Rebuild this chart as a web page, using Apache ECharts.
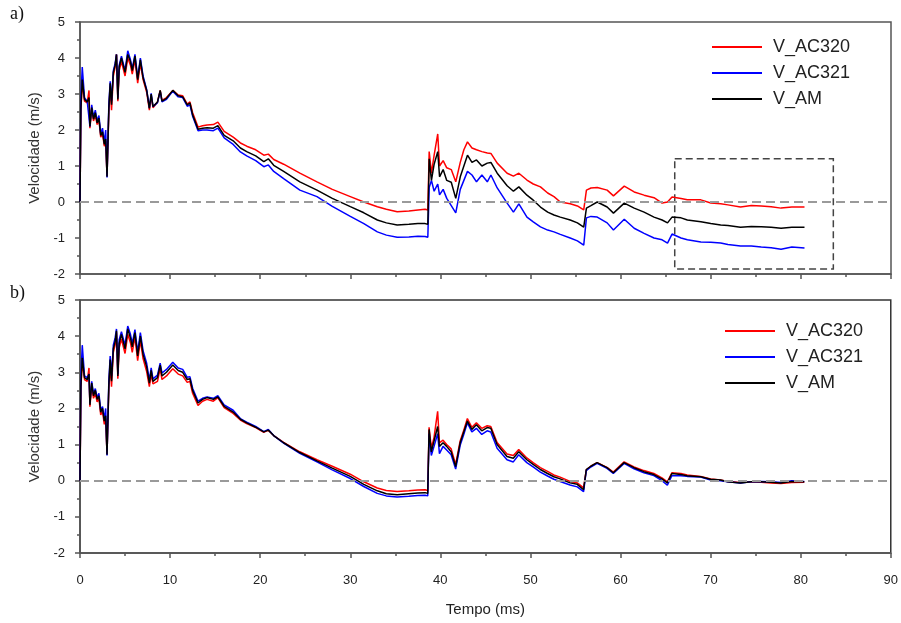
<!DOCTYPE html>
<html>
<head>
<meta charset="utf-8">
<script src="https://cdn.jsdelivr.net/npm/echarts@6/dist/echarts.min.js"></script>
<style>html,body{margin:0;padding:0;background:#fff;}#c{width:901px;height:623px;}</style>
</head>
<body>
<div id="c"></div>
<script>
// Time (ms)
var T = [0,0.1,0.25,0.5,0.8,1.0,1.1,1.3,1.5,1.7,
1.9,2.1,2.3,2.5,2.7,2.85,3.0,3.2,3.35,3.5,
3.7,3.9,4.05,4.2,4.35,4.6,5.0,5.3,5.6,5.8,
6.1,6.4,6.7,7.0,7.4,7.7,7.9,8.1,8.6,8.9,
9.1,9.6,10.3,10.9,11.4,11.9,12.2,12.5,13.1,13.6,
14.1,14.8,15.3,16.0,17.0,17.8,18.5,19.5,20.4,20.9,
21.5,22.6,24.4,26.3,28.0,30.0,31.5,33.0,34.0,35.2,
36.5,37.5,38.3,38.6,38.75,39.0,39.3,39.7,39.9,40.3,
40.7,41.2,41.7,42.2,42.6,43.0,43.5,44.0,44.6,45.2,
45.6,46.3,47.4,48.1,48.7,49.6,50.3,51.1,51.9,52.6,
53.3,54.4,55.2,55.9,56.2,56.7,57.4,58.5,59.2,60.4,
61.5,62.6,63.7,64.6,65.2,65.7,66.7,67.4,68.9,70.0,
71.1,71.9,73.3,74.5,75.6,76.7,77.8,79.0,80.4];

// Panel a)
var a_AC320 = [0,2.55,3.3,2.8,2.75,3.1,2.05,2.58,2.25,2.42,
2.15,2.28,1.8,1.9,1.55,1.7,0.72,2.5,3.2,2.55,
3.5,3.75,4.1,2.8,3.65,3.9,3.5,4.0,3.8,3.55,
3.95,3.3,3.85,3.4,3.05,2.55,2.95,2.62,2.78,3.1,
2.82,2.9,3.1,2.97,2.95,2.72,2.78,2.48,2.08,2.12,
2.14,2.15,2.22,1.96,1.8,1.64,1.55,1.45,1.3,1.33,
1.18,1.05,0.8,0.56,0.35,0.15,0.0,-0.13,-0.2,-0.27,
-0.25,-0.22,-0.2,-0.22,1.4,0.8,1.3,1.89,1.0,1.15,
0.95,0.9,0.56,1.1,1.45,1.67,1.5,1.45,1.4,1.36,
1.35,1.08,0.8,0.72,0.8,0.61,0.5,0.42,0.25,0.15,
0.0,-0.05,-0.11,-0.22,0.33,0.39,0.4,0.33,0.17,0.44,
0.28,0.19,0.12,-0.03,0.0,0.14,0.1,0.06,0.06,-0.03,
-0.05,-0.08,-0.14,-0.1,-0.11,-0.13,-0.17,-0.14,-0.14];
var a_AC321 = [0,2.9,3.75,2.9,2.8,2.85,2.1,2.7,2.35,2.55,
2.25,2.4,1.9,2.05,1.65,2.0,0.68,2.7,3.35,2.8,
3.65,3.85,4.1,2.9,3.8,4.05,3.65,4.2,3.95,3.7,
4.1,3.45,4.0,3.5,3.12,2.62,3.02,2.65,2.76,3.08,
2.78,2.85,3.08,2.92,2.9,2.66,2.7,2.38,1.98,2.0,
2.0,1.98,2.05,1.78,1.6,1.39,1.28,1.15,0.98,1.03,
0.85,0.65,0.33,0.15,-0.12,-0.4,-0.6,-0.83,-0.92,-0.98,
-0.97,-0.95,-0.96,-0.98,0.4,0.6,0.3,0.5,0.2,0.35,
0.1,-0.1,-0.3,0.35,0.6,0.85,0.75,0.56,0.75,0.56,
0.75,0.39,-0.03,-0.28,-0.05,-0.42,-0.55,-0.69,-0.78,-0.83,
-0.9,-1.0,-1.08,-1.2,-0.44,-0.4,-0.42,-0.58,-0.78,-0.48,
-0.73,-0.87,-1.0,-1.05,-1.14,-0.89,-1.0,-1.05,-1.11,-1.12,
-1.14,-1.18,-1.22,-1.22,-1.25,-1.27,-1.31,-1.25,-1.28];
var a_AM = [0,2.6,3.4,2.85,2.78,2.9,2.1,2.62,2.3,2.48,
2.2,2.33,1.85,1.95,1.6,1.75,0.7,2.6,3.3,2.7,
3.6,3.8,4.1,2.85,3.75,4.0,3.6,4.1,3.9,3.65,
4.05,3.4,3.95,3.45,3.1,2.6,3.0,2.65,2.78,3.1,
2.8,2.88,3.1,2.95,2.92,2.7,2.75,2.42,2.02,2.05,
2.06,2.05,2.12,1.85,1.7,1.5,1.4,1.28,1.12,1.2,
1.02,0.85,0.56,0.33,0.1,-0.13,-0.3,-0.5,-0.58,-0.64,
-0.62,-0.6,-0.6,-0.62,1.2,0.6,1.05,1.4,0.7,0.9,
0.6,0.55,0.1,0.7,1.0,1.3,1.1,1.17,1.0,1.08,
1.1,0.8,0.45,0.3,0.42,0.19,0.05,-0.14,-0.28,-0.36,
-0.42,-0.5,-0.58,-0.7,-0.17,-0.1,0.0,-0.14,-0.31,-0.03,
-0.17,-0.28,-0.42,-0.5,-0.58,-0.42,-0.44,-0.5,-0.55,-0.6,
-0.64,-0.65,-0.7,-0.68,-0.69,-0.7,-0.73,-0.7,-0.7];

// Panel b)
var b_AC320 = [0,2.55,3.3,2.8,2.75,3.12,2.05,2.62,2.28,2.42,
2.18,2.28,1.82,1.92,1.56,1.72,0.74,2.55,3.22,2.6,
3.55,3.75,4.1,2.82,3.68,3.92,3.52,4.05,3.82,3.55,
3.98,3.32,3.88,3.38,3.02,2.6,2.95,2.68,2.75,3.1,
2.8,2.9,3.1,2.95,2.9,2.72,2.75,2.42,2.08,2.2,
2.25,2.2,2.3,2.02,1.86,1.68,1.58,1.47,1.34,1.4,
1.25,1.06,0.8,0.58,0.4,0.18,-0.03,-0.2,-0.27,-0.3,
-0.28,-0.26,-0.25,-0.27,1.48,0.9,1.2,1.92,1.05,1.12,
1.0,0.88,0.45,1.1,1.4,1.72,1.48,1.6,1.45,1.52,
1.5,1.06,0.74,0.7,0.86,0.63,0.5,0.36,0.26,0.16,
0.1,-0.02,-0.06,-0.2,0.3,0.4,0.5,0.37,0.24,0.52,
0.38,0.28,0.2,0.08,-0.03,0.22,0.2,0.16,0.12,0.05,
0.02,-0.02,-0.05,-0.03,-0.04,-0.06,-0.08,-0.05,-0.04];
var b_AC321 = [0,2.9,3.75,2.9,2.85,2.95,2.15,2.75,2.4,2.55,
2.3,2.42,1.95,2.05,1.7,2.0,0.7,2.75,3.45,2.9,
3.75,3.95,4.2,2.95,3.9,4.12,3.75,4.28,4.05,3.8,
4.18,3.55,4.1,3.6,3.25,2.78,3.12,2.82,2.92,3.25,
2.98,3.08,3.28,3.12,3.08,2.86,2.88,2.56,2.2,2.28,
2.32,2.28,2.35,2.1,1.95,1.72,1.62,1.5,1.36,1.42,
1.25,1.04,0.76,0.52,0.3,0.06,-0.16,-0.35,-0.42,-0.45,
-0.43,-0.41,-0.4,-0.42,1.3,0.7,0.95,1.3,0.75,0.95,
0.85,0.72,0.32,0.98,1.28,1.6,1.35,1.45,1.28,1.38,
1.35,0.9,0.58,0.52,0.72,0.5,0.38,0.24,0.13,0.04,
-0.02,-0.12,-0.17,-0.3,0.28,0.38,0.48,0.34,0.2,0.48,
0.33,0.22,0.14,0.0,-0.12,0.14,0.14,0.12,0.1,0.02,
0.0,-0.03,-0.06,-0.03,-0.02,-0.03,-0.05,0.0,-0.02];
var b_AM = [0,2.6,3.4,2.85,2.8,2.95,2.1,2.7,2.35,2.5,
2.25,2.35,1.9,2.0,1.65,1.8,0.72,2.65,3.35,2.75,
3.65,3.85,4.15,2.9,3.8,4.05,3.65,4.2,3.95,3.7,
4.1,3.45,4.0,3.5,3.15,2.7,3.05,2.75,2.85,3.2,
2.9,3.0,3.2,3.05,3.0,2.8,2.82,2.5,2.15,2.25,
2.3,2.25,2.32,2.06,1.9,1.7,1.6,1.48,1.35,1.4,
1.25,1.05,0.78,0.55,0.35,0.12,-0.1,-0.28,-0.36,-0.39,
-0.36,-0.34,-0.33,-0.35,1.42,0.8,1.1,1.5,0.95,1.05,
0.95,0.8,0.39,1.05,1.35,1.65,1.42,1.55,1.38,1.47,
1.45,1.0,0.67,0.62,0.8,0.58,0.45,0.31,0.2,0.11,
0.05,-0.06,-0.1,-0.25,0.31,0.4,0.5,0.36,0.22,0.5,
0.36,0.25,0.17,0.05,-0.06,0.2,0.17,0.14,0.11,0.04,
0.02,-0.03,-0.06,-0.03,-0.03,-0.04,-0.06,-0.02,-0.03];

var names = ['V_AC320','V_AC321','V_AM'];
var colors = ['#ff0000','#0000ff','#000000'];
var xTicks = {min:0, max:90, interval:10};
var yTicks = {min:-2, max:5, interval:1};
var zoomBox = [[66, 1.2], [83.6, -1.86]];

function pairs(arr){ return T.map(function(t,i){ return [t, arr[i]]; }); }

var FONT = 'Liberation Sans, Arial, sans-serif';

function xAxis(idx, showLabels){
  return {
    type:'value', gridIndex:idx, min:xTicks.min, max:xTicks.max, interval:xTicks.interval,
    axisLine:{onZero:false, lineStyle:{color:'#555', width:1.5}},
    axisTick:{show:true, inside:false, length:5, lineStyle:{color:'#555', width:1.5}},
    minorTick:{show:true, splitNumber:2, length:3, lineStyle:{color:'#555', width:1.5}},
    splitLine:{show:false},
    axisLabel:{show:showLabels, color:'#222', fontSize:13, fontFamily:FONT, margin:21},
    name: showLabels ? 'Tempo (ms)' : '', nameLocation:'middle', nameGap:49,
    nameTextStyle:{color:'#222', fontSize:15, fontFamily:FONT}
  };
}
function yAxis(idx){
  return {
    type:'value', gridIndex:idx, min:yTicks.min, max:yTicks.max, interval:yTicks.interval,
    axisLine:{show:true, onZero:false, lineStyle:{color:'#555', width:1.5}},
    axisTick:{show:true, inside:false, length:5, lineStyle:{color:'#555', width:1.5}},
    minorTick:{show:true, splitNumber:2, length:3, lineStyle:{color:'#555', width:1.5}},
    splitLine:{show:false},
    axisLabel:{color:'#222', fontSize:13, fontFamily:FONT, margin:15},
    name:'Velocidade (m/s)', nameLocation:'middle', nameGap:34,
    nameTextStyle:{color:'#333', fontSize:15, fontFamily:FONT}
  };
}

var zeroLine = {
  silent:true, symbol:'none', label:{show:false},
  lineStyle:{color:'#9a9a9a', type:[9,5], width:2},
  data:[{yAxis:0}]
};

function mkSeries(idx, arrs){
  return arrs.map(function(arr, k){
    var s = {
      name:names[k], type:'line', xAxisIndex:idx, yAxisIndex:idx,
      data:pairs(arr), symbol:'none', showSymbol:false,
      lineStyle:{color:colors[k], width:1.5}, itemStyle:{color:colors[k]},
      animation:false, z:2+k
    };
    if (k===0) s.markLine = zeroLine;
    if (k===0 && idx===0) s.markArea = {
      silent:true,
      itemStyle:{color:'rgba(0,0,0,0)', borderColor:'#444', borderWidth:1.5, borderType:[7,4]},
      data:[[{coord:zoomBox[0]},{coord:zoomBox[1]}]]
    };
    return s;
  });
}

function legend(left, top){
  return {
    data:names, left:left, top:top, orient:'vertical', padding:0,
    itemWidth:50, itemHeight:2, itemGap:8, icon:'rect',
    textStyle:{fontSize:18, fontFamily:FONT, color:'#222', padding:[0,0,0,6]}
  };
}

var chart = echarts.init(document.getElementById('c'), null, {renderer:'canvas'});
chart.setOption({
  animation:false,
  backgroundColor:'#fff',
  grid:[
    {left:80, top:22, width:811, height:252, show:true, borderColor:'#555', borderWidth:1.5, backgroundColor:'transparent'},
    {left:80, top:300, width:811, height:253, show:true, borderColor:'#333', borderWidth:1.5, backgroundColor:'transparent'}
  ],
  xAxis:[xAxis(0,false), xAxis(1,true)],
  yAxis:[yAxis(0), yAxis(1)],
  legend:[legend(712, 38), legend(725, 322)],
  graphic:[
    {type:'text', left:10, top:5, style:{text:'a)', font:'18px "Liberation Serif", serif', fill:'#111'}},
    {type:'text', left:10, top:284, style:{text:'b)', font:'18px "Liberation Serif", serif', fill:'#111'}}
  ],
  series: mkSeries(0,[a_AC320,a_AC321,a_AM]).concat(mkSeries(1,[b_AC320,b_AC321,b_AM]))
});
</script>
</body>
</html>
